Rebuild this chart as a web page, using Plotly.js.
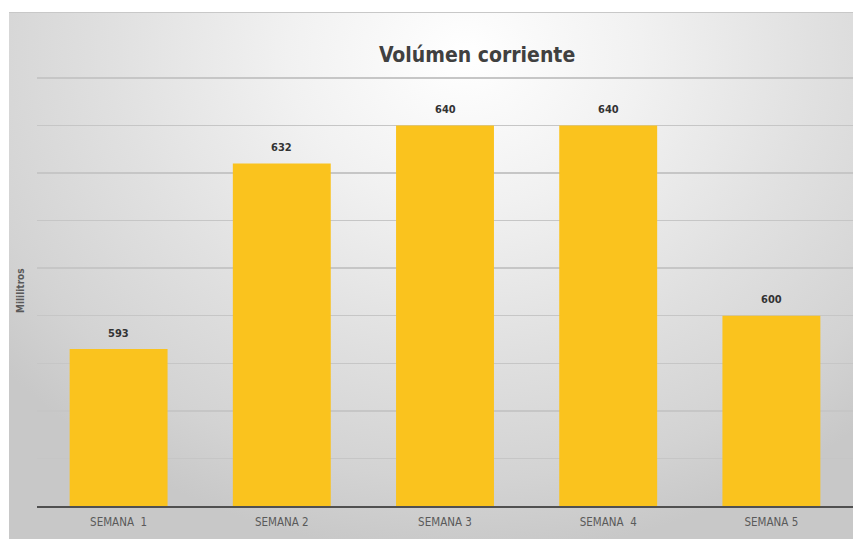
<!DOCTYPE html>
<html>
<head>
<meta charset="utf-8">
<script src="https://cdn.plot.ly/plotly-3.0.1.min.js"></script>
<style>
  html, body { margin: 0; padding: 0; background: #ffffff; }
  #wrap { position: relative; width: 853px; height: 539px; overflow: hidden; background: #ffffff; }
  #bg { position: absolute; left: 9px; top: 12px; right: 0; bottom: 0;
        background: radial-gradient(ellipse 70% 95% at 54% 8%, #ffffff 0%, #f1f1f1 30%, #e0e0e0 60%, #d3d3d3 85%, #c8c8c8 100%);
        border-top: 1px solid #c8c8c8; }
  #chart { position: absolute; left: 0; top: 0; width: 853px; height: 539px; }
</style>
</head>
<body>
<div id="wrap">
  <div id="bg"></div>
  <div id="chart"></div>
</div>
<script>
const categories = ["SEMANA  1", "SEMANA 2", "SEMANA 3", "SEMANA  4", "SEMANA 5"];
const values = [593, 632, 640, 640, 600];
const chartTitle = "Volúmen corriente";
const yTitle = "Mililitros";

const FONT = "DejaVu Sans Condensed, DejaVu Sans, sans-serif";

const trace = {
  type: "bar",
  x: categories,
  y: values,
  marker: { color: "#FAC31E" },
  hoverinfo: "none"
};

const labelAnnotations = categories.map((c, i) => ({
  x: c, y: values[i], xref: "x", yref: "y",
  text: String(values[i]),
  showarrow: false,
  yshift: 16,
  font: { family: FONT, size: 11, color: "#333333", weight: "bold", stretch: "condensed" }
}));

const layout = {
  width: 853, height: 539,
  margin: { l: 37, r: 0, t: 76, b: 33 },
  paper_bgcolor: "rgba(0,0,0,0)",
  plot_bgcolor: "rgba(0,0,0,0)",
  bargap: 0.4,
  showlegend: false,
  title: {
    text: chartTitle,
    x: 460 / 853, xref: "paper", xanchor: "center",
    y: 1 - 55 / 539, yref: "container", yanchor: "middle",
    font: { family: FONT, size: 21, color: "#404040", weight: "bold", stretch: "condensed" }
  },
  xaxis: {
    type: "category",
    showgrid: false,
    showline: true, linecolor: "#505050", linewidth: 2,
    ticks: "",
    ticklabelstandoff: 4,
    tickfont: { family: FONT, size: 11.5, color: "#5a5a5a", stretch: "condensed" },
    fixedrange: true
  },
  yaxis: {
    range: [560, 650.4],
    tick0: 560,
    dtick: 10,
    showgrid: true, gridcolor: "#c6c6c6", gridwidth: 1.5,
    showticklabels: false,
    zeroline: false, showline: false, ticks: "",
    fixedrange: true
  },
  annotations: labelAnnotations.concat([{
    text: yTitle,
    xref: "paper", yref: "paper",
    x: (20 - 37) / 816, y: 0.5,
    xanchor: "center", yanchor: "middle",
    textangle: -90, showarrow: false,
    font: { family: FONT, size: 10, color: "#595959", weight: "bold", stretch: "condensed" }
  }])
};

Plotly.newPlot("chart", [trace], layout, { displayModeBar: false, staticPlot: true });
</script>
</body>
</html>
